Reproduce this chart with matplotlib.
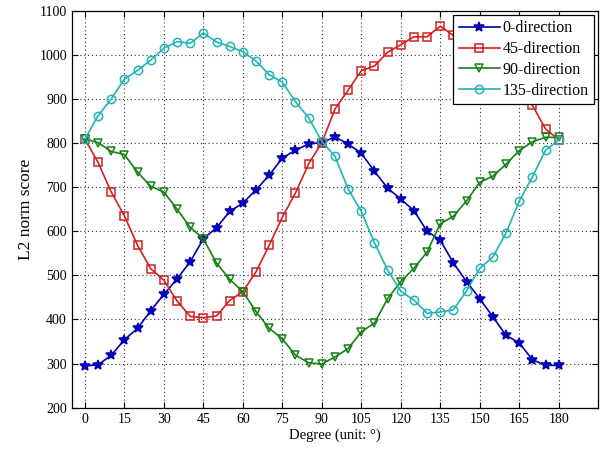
import matplotlib
matplotlib.use('Agg')
import matplotlib.pyplot as plt

plt.rcParams['font.family'] = ['Liberation Serif', 'DejaVu Serif']

# 角度 0~180, 步长 5
deg = list(range(0, 181, 5))

dir0 = [295, 297, 319, 354, 380, 420, 457, 492, 531, 583, 608, 645, 664, 694, 727, 766, 784, 798, 801, 814,
        798, 777, 736, 698, 673, 647, 600, 580, 528, 486, 447, 406, 364, 347, 309, 296, 296]
dir45 = [809, 756, 689, 635, 568, 515, 489, 442, 407, 404, 408, 443, 463, 508, 568, 632, 687, 753, 801, 877,
         920, 964, 975, 1006, 1023, 1041, 1041, 1065, 1044, 1035, 1015, 990, 955, 920, 886, 832, 808]
dir90 = [809, 801, 781, 774, 734, 702, 689, 650, 609, 583, 528, 491, 463, 418, 380, 356, 319, 302, 299, 315,
         334, 372, 392, 447, 486, 516, 553, 617, 634, 669, 711, 725, 752, 783, 803, 813, 813]
dir135 = [809, 862, 900, 945, 965, 988, 1015, 1030, 1026, 1050, 1029, 1019, 1007, 986, 955, 938, 894, 857, 804, 770,
          696, 645, 574, 512, 464, 444, 414, 417, 422, 465, 516, 542, 596, 668, 723, 784, 807]

labels = ['0-direction', '45-direction', '90-direction', '135-direction']
colors = ['#0000b4', '#d22020', '#158015', '#20b4b4']
markers = ['*', 's', 'v', 'o']

fig = plt.figure(figsize=(6.03, 4.49), dpi=100)
ax = fig.add_axes([0.119, 0.092, 0.873, 0.884])

for ys, lab, c, m in zip([dir0, dir45, dir90, dir135], labels, colors, markers):
    ms = 7.5 if m == '*' else 6
    ax.plot(deg, ys, color=c, marker=m, markersize=ms, markerfacecolor='none' if m != '*' else c,
            markeredgecolor=c, markeredgewidth=1.1, linewidth=1.2, label=lab)

ax.set_xlim(-5, 195)
ax.set_ylim(200, 1100)
ax.set_xticks(range(0, 181, 15))
ax.set_yticks(range(200, 1101, 100))
ax.grid(True, linestyle=(0, (1, 2.5)), color='#333333', linewidth=0.8)
ax.tick_params(direction='in', top=True, right=True, labelsize=10, length=4)
for s in ax.spines.values():
    s.set_linewidth(0.9)

ax.set_xlabel('Degree (unit: °)', fontsize=10.5, labelpad=2)
ax.set_ylabel('L2 norm score', fontsize=12.5, labelpad=4)

leg = ax.legend(loc='upper right', fontsize=11.5, fancybox=False, framealpha=1, edgecolor='black',
                borderaxespad=0.25, handlelength=2.6, handletextpad=0.15, labelspacing=0.3, borderpad=0.35)
leg.get_frame().set_linewidth(0.9)

fig.savefig('out.png', dpi=100)
